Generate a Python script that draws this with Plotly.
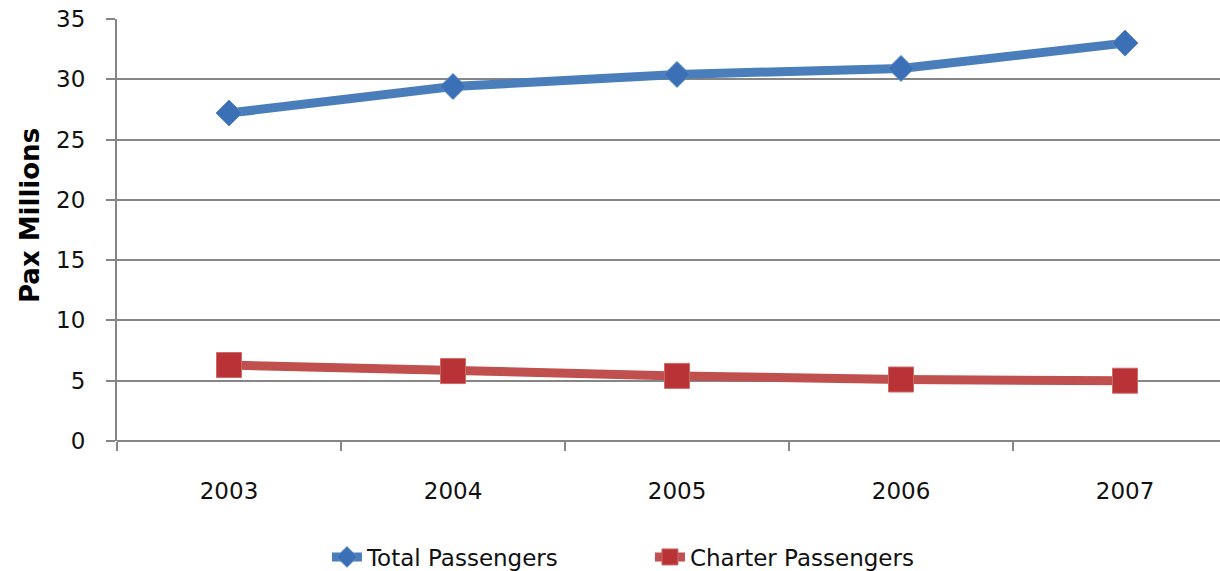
import plotly.graph_objects as go

# Annual passenger numbers (millions)
years = ["2003", "2004", "2005", "2006", "2007"]
total_passengers = [27.2, 29.4, 30.4, 30.9, 33.0]
charter_passengers = [6.3, 5.8, 5.4, 5.1, 5.0]
y_ticks = [0, 5, 10, 15, 20, 25, 30, 35]

FONT = "DejaVu Sans"
GRID = "#868686"
pos = list(range(len(years)))

fig = go.Figure()
fig.add_trace(go.Scatter(
    x=pos, y=total_passengers, name="Total Passengers",
    mode="lines+markers",
    line=dict(color="#4A7EBB", width=9),
    marker=dict(symbol="diamond", size=20, color="#3B6FB6",
                line=dict(color="#5A8AC6", width=1)),
))
fig.add_trace(go.Scatter(
    x=pos, y=charter_passengers, name="Charter Passengers",
    mode="lines+markers",
    line=dict(color="#C0504D", width=9),
    marker=dict(symbol="square", size=25, color="#B83236",
                line=dict(color="#CC6A68", width=1)),
))

fig.update_layout(
    width=1220, height=571,
    margin=dict(l=117, r=0, t=19, b=130, autoexpand=False),
    paper_bgcolor="white", plot_bgcolor="white",
    font=dict(family=FONT, size=23, color="#111111"),
    showlegend=True,
    legend=dict(orientation="h", xref="container", yref="container",
                x=0.268, xanchor="left", y=1 - 557 / 571, yanchor="middle",
                font=dict(family=FONT, size=23, color="#111111"),
                entrywidth=278, entrywidthmode="pixels",
                tracegroupgap=0),
    xaxis=dict(
        range=[-0.5, 4.424], automargin=False,
        tickmode="array", tickvals=pos, ticktext=years,
        ticks="", showgrid=False, zeroline=False,
        showline=False, ticklabelstandoff=34,
        minor=dict(tickvals=[-0.5, 0.5, 1.5, 2.5, 3.5, 4.5],
                   ticks="outside", ticklen=9, tickcolor=GRID, tickwidth=2),
    ),
    yaxis=dict(
        range=[0, 35], tickmode="array", tickvals=y_ticks, automargin=False,
        showgrid=True, gridcolor=GRID, gridwidth=2,
        zeroline=True, zerolinecolor=GRID, zerolinewidth=2,
        showline=True, linecolor=GRID, linewidth=2,
        ticks="outside", ticklen=9, tickcolor=GRID, tickwidth=2,
        ticklabelstandoff=16,
    ),
    annotations=[dict(
        text="<b>Pax Millions</b>", textangle=-90,
        xref="paper", yref="paper", x=-0.0789, y=0.5355,
        xanchor="center", yanchor="middle", showarrow=False,
        font=dict(family=FONT, size=26, color="#000000"),
    )],
)

fig.write_html("out.html")
